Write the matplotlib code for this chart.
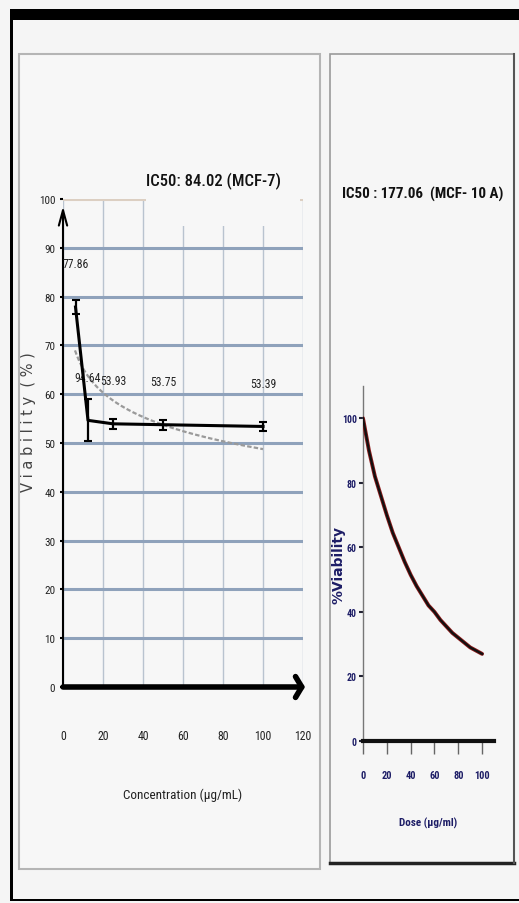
import matplotlib
matplotlib.use("Agg")
import matplotlib.pyplot as plt
import numpy as np
from matplotlib import font_manager
from matplotlib.patches import Rectangle
from matplotlib.lines import Line2D

# ---------------- data ----------------
conc = [6.25, 12.5, 25, 50, 100]
viab = [77.86, 54.64, 53.93, 53.75, 53.39]
viab_err = [1.5, 4.3, 1.0, 1.0, 1.0]
point_labels = ["77.86", "94.64", "53.93", "53.75", "53.39"]
left_xticks = [0, 20, 40, 60, 80, 100, 120]
left_yticks = [0, 10, 20, 30, 40, 50, 60, 70, 80, 90, 100]

dose = [0, 5, 10, 15, 20, 25, 30, 35, 40, 45, 50, 55, 60, 65, 70, 75, 80, 85, 90, 95, 100]
dose_viab = [100, 90, 82, 76, 70, 64.5, 60, 55.5, 51.5, 48, 45, 42, 40, 37.5, 35.5,
             33.5, 32, 30.5, 29, 28, 27]
right_xticks = [0, 20, 40, 60, 80, 100]
right_yticks = [0, 20, 40, 60, 80, 100]

title_left = "IC50: 84.02 (MCF-7)"
title_right = "IC50 : 177.06  (MCF- 10 A)"
xlabel_left = "Concentration (\u00b5g/mL)"
ylabel_left = "V i a b i l i t y  ( % )"
xlabel_right = "Dose (\u00b5g/ml)"
ylabel_right = "%Viability"

# ---------------- fonts ----------------
available = {f.name for f in font_manager.fontManager.ttflist}


def pick(*names):
    for n in names:
        if n in available:
            return n
    return "DejaVu Sans"


NARROW = pick("Liberation Sans Narrow", "Roboto Condensed", "Open Sans Condensed",
              "Liberation Sans")
WIDE = pick("DejaVu Sans")

W, H = 519, 904
BG = "#f5f5f5"
NAVY = "#1d1d66"


def fx(p):
    return p / W


def fy(p):
    return 1 - p / H


fig = plt.figure(figsize=(W / 100, H / 100), dpi=100)
fig.patch.set_facecolor(BG)

# outer frame
fig.add_artist(Rectangle((fx(10), fy(21)), 1 - fx(10), 11 / H, transform=fig.transFigure,
                         facecolor="black", edgecolor="none", zorder=-5))
fig.add_artist(Rectangle((fx(10), fy(902)), 2.5 / W, (902 - 10) / H, transform=fig.transFigure,
                         facecolor="black", edgecolor="none", zorder=-5))
fig.add_artist(Rectangle((fx(10), fy(902)), 1 - fx(10), 2.5 / H, transform=fig.transFigure,
                         facecolor="black", edgecolor="none", zorder=-5))

# left panel box
fig.add_artist(Rectangle((fx(19), fy(870)), (320 - 19) / W, (870 - 55) / H,
                         transform=fig.transFigure, facecolor="#f7f7f7",
                         edgecolor="#b5b5b5", lw=1.5, zorder=-4))
# right panel box
fig.add_artist(Rectangle((fx(330), fy(864)), (514 - 330) / W, (864 - 55) / H,
                         transform=fig.transFigure, facecolor="#f6f6f6",
                         edgecolor="#9a9a9a", lw=1.2, zorder=-4))
fig.add_artist(Line2D([fx(330), fx(514)], [fy(864), fy(864)], transform=fig.transFigure,
                      color="#222222", lw=2.5, zorder=-3))
fig.add_artist(Line2D([fx(514), fx(514)], [fy(864), fy(55)], transform=fig.transFigure,
                      color="#555555", lw=1.5, zorder=-3))

# ---------------- left chart ----------------
ax = fig.add_axes([fx(63), fy(688), 240 / W, 488 / H])
ax.set_facecolor("none")
ax.set_xlim(0, 120)
ax.set_ylim(0, 100)
ax.set_xticks(left_xticks)
ax.set_yticks(left_yticks)
ax.set_axisbelow(True)
ax.yaxis.grid(True, color="#8fa2bb", lw=2.2)
ax.xaxis.grid(True, color="#b9c3cf", lw=1.0)
ax.get_ygridlines()[-1].set_color("#dccfc2")
for s in ax.spines.values():
    s.set_visible(False)
ax.tick_params(axis="y", length=2.5, width=1.5, color="black", pad=3,
               labelsize=8, labelcolor="#222222")
ax.tick_params(axis="x", length=0, pad=30, labelsize=8.5, labelcolor="#222222")
for lab in ax.get_xticklabels() + ax.get_yticklabels():
    lab.set_family(NARROW)

# axes with arrows
ax.annotate("", xy=(0, 98.5), xytext=(0, 0), xycoords="data",
            arrowprops=dict(arrowstyle="->,head_length=1.1,head_width=0.3", lw=1.5,
                            color="black", shrinkA=0, shrinkB=0), annotation_clip=False)
ax.annotate("", xy=(121, 0), xytext=(0, 0), xycoords="data",
            arrowprops=dict(arrowstyle="->,head_length=0.45,head_width=0.75", lw=4,
                            color="black", shrinkA=0, shrinkB=0), annotation_clip=False)

# logarithmic trend line fitted to the data
b, a = np.polyfit(np.log(conc), viab, 1)
xt = np.linspace(6, 100, 200)
ax.plot(xt, a + b * np.log(xt), color="#9a9a9a", lw=1.6, ls=(0, (2, 1)), zorder=3)

ax.errorbar(conc, viab, yerr=viab_err, fmt="-", color="black", lw=2.2,
            elinewidth=1.6, capsize=3, capthick=1.5, zorder=4)
for xv, yv, lab in zip(conc, viab, point_labels):
    ax.annotate(lab, (xv, yv), xytext=(0, 31), textcoords="offset points",
                ha="center", va="center", fontsize=8.5, family=NARROW,
                color="#222222", annotation_clip=False)

# cover box behind title (title panel overlapping the plot area)
fig.add_artist(Rectangle((fx(146), fy(227)), (300 - 146) / W, (227 - 150) / H,
                         transform=fig.transFigure, facecolor="#f7f7f7",
                         edgecolor="none", zorder=1))
fig.text(fx(214), fy(181), title_left, ha="center", va="center", fontsize=12,
         family=NARROW, fontweight="medium", color="#111111", zorder=2)
fig.text(fx(183), fy(795), xlabel_left, ha="center", va="center", fontsize=9.5,
         family=NARROW, color="#222222")
fig.text(fx(29), fy(422), ylabel_left, ha="center", va="center", rotation=90,
         fontsize=10.5, family=WIDE, color="#444444")

# ---------------- right chart ----------------
ax2 = fig.add_axes([fx(363), fy(742), 131 / W, 355 / H])
ax2.set_facecolor("none")
ax2.set_xlim(0, 110)
ax2.set_ylim(0, 110)
ax2.set_xticks(right_xticks)
ax2.set_yticks(right_yticks)
ax2.spines["top"].set_visible(False)
ax2.spines["right"].set_visible(False)
ax2.spines["left"].set_color("#777777")
ax2.spines["left"].set_linewidth(1.0)
ax2.spines["bottom"].set_color("#111111")
ax2.spines["bottom"].set_linewidth(3)
ax2.tick_params(axis="y", length=3, width=1.5, color="#222233", pad=1.5,
                labelsize=7, labelcolor=NAVY)
ax2.tick_params(axis="x", length=9, width=1.0, color="#666666", pad=12,
                labelsize=7.5, labelcolor=NAVY)
for lab in ax2.get_xticklabels() + ax2.get_yticklabels():
    lab.set_family(NARROW)
    lab.set_fontweight("bold")

ax2.plot(dose, dose_viab, color="#8b1a1a", lw=2.8, solid_capstyle="round", zorder=3)
ax2.plot(dose, dose_viab, color="#111111", lw=1.6, zorder=4)

fig.text(fx(423), fy(194), title_right, ha="center", va="center", fontsize=10.8,
         family=NARROW, fontweight="bold", color="#111111")
fig.text(fx(428), fy(823), xlabel_right, ha="center", va="center", fontsize=8,
         family=NARROW, fontweight="bold", color=NAVY)
fig.text(fx(338), fy(565), ylabel_right, ha="center", va="center", rotation=90,
         fontsize=10, family=WIDE, fontweight="bold", color=NAVY)

fig.savefig("out.png", dpi=100, facecolor=BG)
